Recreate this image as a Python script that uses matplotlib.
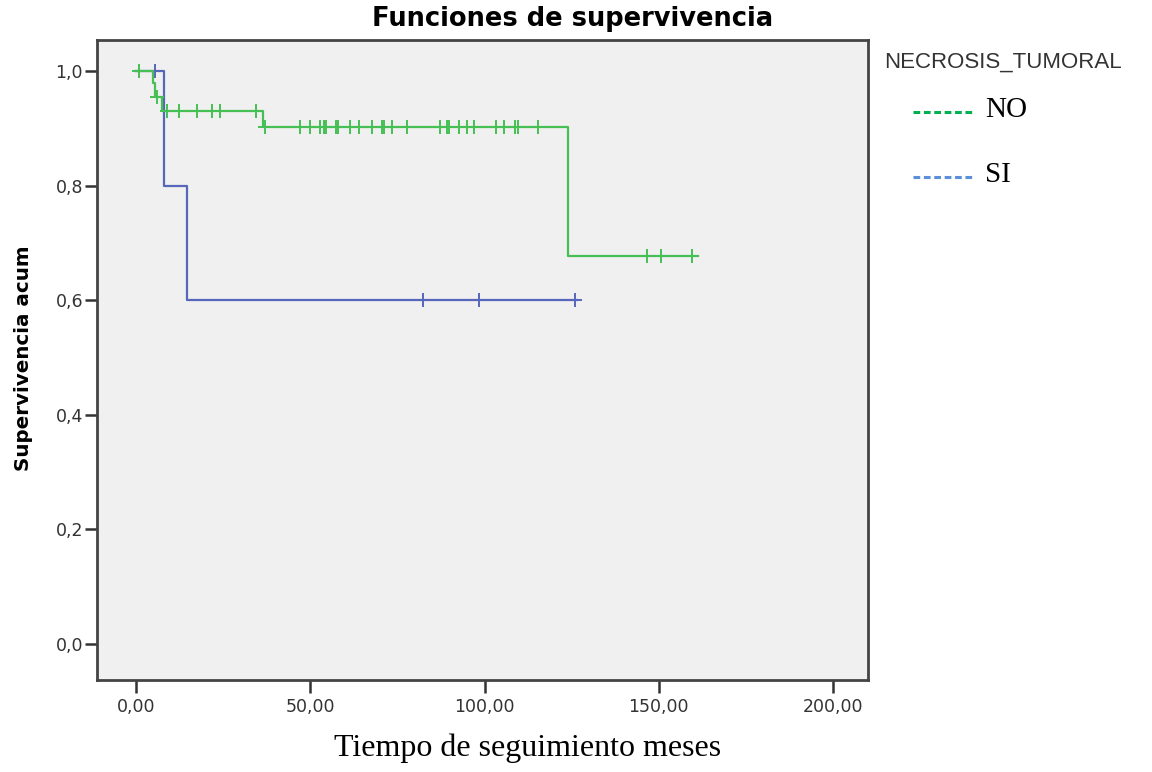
import numpy as np
import matplotlib
matplotlib.use('Agg')
import matplotlib.pyplot as plt
from matplotlib.lines import Line2D

# Kaplan-Meier steps
no_time = [0.0, 4.9, 5.5, 7.4, 36.5, 124.0]
no_surv = [1.0, 0.979, 0.955, 0.930, 0.902, 0.677]
no_end = 161.3
no_cens = [0.8, 6.0, 8.9, 12.3, 17.5, 21.8, 24.1, 34.4, 37.0, 47.1, 49.9,
           52.8, 53.9, 54.5, 57.4, 57.8, 61.4, 64.0, 67.7, 70.5, 71.0, 73.4,
           77.7, 87.2, 89.2, 89.8, 92.7, 94.9, 97.0, 103.3, 105.6, 108.8,
           109.5, 115.4, 146.6, 150.6, 159.5]

si_time = [0.0, 8.0, 14.6]
si_surv = [1.0, 0.8, 0.6]
si_end = 126.5
si_cens = [5.5, 82.4, 98.5, 126.0]

x_ticks = [0, 50, 100, 150, 200]
x_labels = ['0,00', '50,00', '100,00', '150,00', '200,00']
y_ticks = [0.0, 0.2, 0.4, 0.6, 0.8, 1.0]
y_labels = ['0,0', '0,2', '0,4', '0,6', '0,8', '1,0']

line_green = '#46bf55'
line_blue = '#5566bb'
leg_green = '#00b050'
leg_blue = '#5b8fd9'


def surv_at(times, surv, t):
    idx = np.searchsorted(times, t, side='right') - 1
    return np.array(surv)[idx]


fig = plt.figure(figsize=(11.52, 7.72), dpi=100)
ax = fig.add_axes([97/1152, 1-680/772, (868-97)/1152, (680-40)/772])
ax.set_facecolor('#f0f0f0')

for times, surv, end, cens, col in [(si_time, si_surv, si_end, si_cens, line_blue),
                                     (no_time, no_surv, no_end, no_cens, line_green)]:
    xs = list(times) + [end]
    ys = list(surv) + [surv[-1]]
    ax.step(xs, ys, where='post', color=col, lw=1.6)
    ax.plot(cens, surv_at(times, surv, cens), ls='none', marker='+',
            ms=10, mew=1.4, color=col)

ax.set_xlim(-11.2, 210)
ax.set_ylim(-0.063, 1.054)
ax.set_xticks(x_ticks)
ax.set_xticklabels(x_labels)
ax.set_yticks(y_ticks)
ax.set_yticklabels(y_labels)
ax.tick_params(direction='out', length=9, width=1.8, color='#333333',
               labelsize=12.5, labelcolor='#333333')
ax.tick_params(axis='y', pad=1)
ax.tick_params(axis='x', pad=4)
for sp in ax.spines.values():
    sp.set_color('#444444')
    sp.set_linewidth(2.0)

fig.text(573/1152, 1-19/772, 'Funciones de supervivencia', ha='center', va='center',
         fontsize=18.5, fontweight='bold', color='black', family='DejaVu Sans')
fig.text(24/1152, 1-358/772, 'Supervivencia acum', rotation=90, ha='center', va='center',
         fontsize=14.3, fontweight='bold', color='black', family='DejaVu Sans')
fig.text(528/1152, 1-748/772, 'Tiempo de seguimiento meses', ha='center', va='center',
         fontsize=23, color='black', family='Liberation Serif')

# legend
fig.text(884/1152, 1-62/772, 'NECROSIS_TUMORAL', ha='left', va='center',
         fontsize=16, color='#333333', family='Liberation Sans')
for yy, col, lab in [(112, leg_green, 'NO'), (177, leg_blue, 'SI')]:
    fig.add_artist(Line2D([913/1152, 975/1152], [1-yy/772, 1-yy/772],
                          color=col, lw=2.2, ls=(0, (2.2, 1.2))))
    fig.text(985/1152, 1-(yy-2)/772, lab, ha='left', va='center',
             fontsize=21, color='black', family='Liberation Serif')

fig.savefig('out.png', dpi=100)
